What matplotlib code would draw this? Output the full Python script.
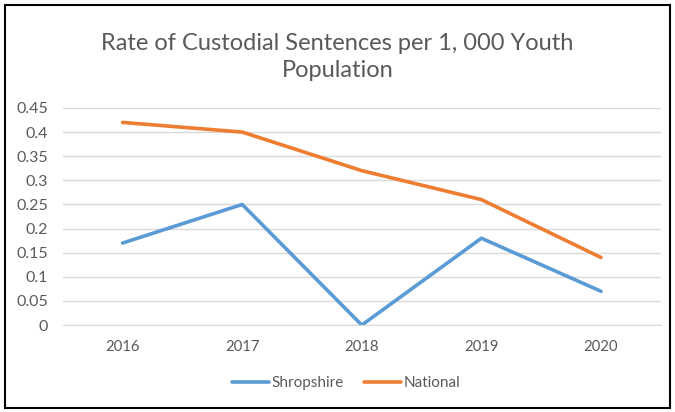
import matplotlib.pyplot as plt
import matplotlib.patches as patches

years = ['2016', '2017', '2018', '2019', '2020']
shropshire = [0.17, 0.25, 0.0, 0.18, 0.07]
national = [0.42, 0.40, 0.32, 0.26, 0.14]
yticks = [0, 0.05, 0.1, 0.15, 0.2, 0.25, 0.3, 0.35, 0.4, 0.45]
ytick_labels = ['0', '0.05', '0.1', '0.15', '0.2', '0.25', '0.3', '0.35', '0.4', '0.45']

plt.rcParams['font.family'] = ['Lato', 'DejaVu Sans']
grey = '#595959'

fig = plt.figure(figsize=(6.75, 4.12), dpi=100)
ax = fig.add_axes([0.093, 0.211, 0.886, 0.527])

x = range(len(years))
ax.plot(x, shropshire, color='#5B9BD5', linewidth=2.6, solid_capstyle='round', label='Shropshire')
ax.plot(x, national, color='#ED7D31', linewidth=2.6, solid_capstyle='round', label='National')

ax.set_xlim(-0.5, 4.5)
ax.set_ylim(0, 0.45)
ax.set_yticks(yticks)
ax.set_yticklabels(ytick_labels)
ax.set_xticks(list(x))
ax.set_xticklabels(years)
ax.grid(axis='y', color='#D9D9D9', linewidth=1)
ax.set_axisbelow(True)
for s in ['top', 'right', 'left']:
    ax.spines[s].set_visible(False)
ax.spines['bottom'].set_color('#D9D9D9')
ax.tick_params(axis='y', length=0, labelsize=11.5, colors=grey, pad=10.5)
ax.tick_params(axis='x', length=0, labelsize=10.7, colors=grey, pad=11)

fig.text(0.5, 0.862, 'Rate of Custodial Sentences per 1, 000 Youth\nPopulation',
         ha='center', va='center', fontsize=17, color=grey, linespacing=1.35)

ax.legend(loc='center', bbox_to_anchor=(0.513, 0.07), bbox_transform=fig.transFigure,
          ncol=2, frameon=False, fontsize=11, labelcolor=grey, handlelength=2.4,
          handletextpad=0.2, columnspacing=1.3)

fig.patches.append(patches.Rectangle((0.008, 0.01), 0.984, 0.978, transform=fig.transFigure,
                                     fill=False, edgecolor='black', linewidth=1.5))

fig.savefig('out.png', dpi=100, facecolor='white')
